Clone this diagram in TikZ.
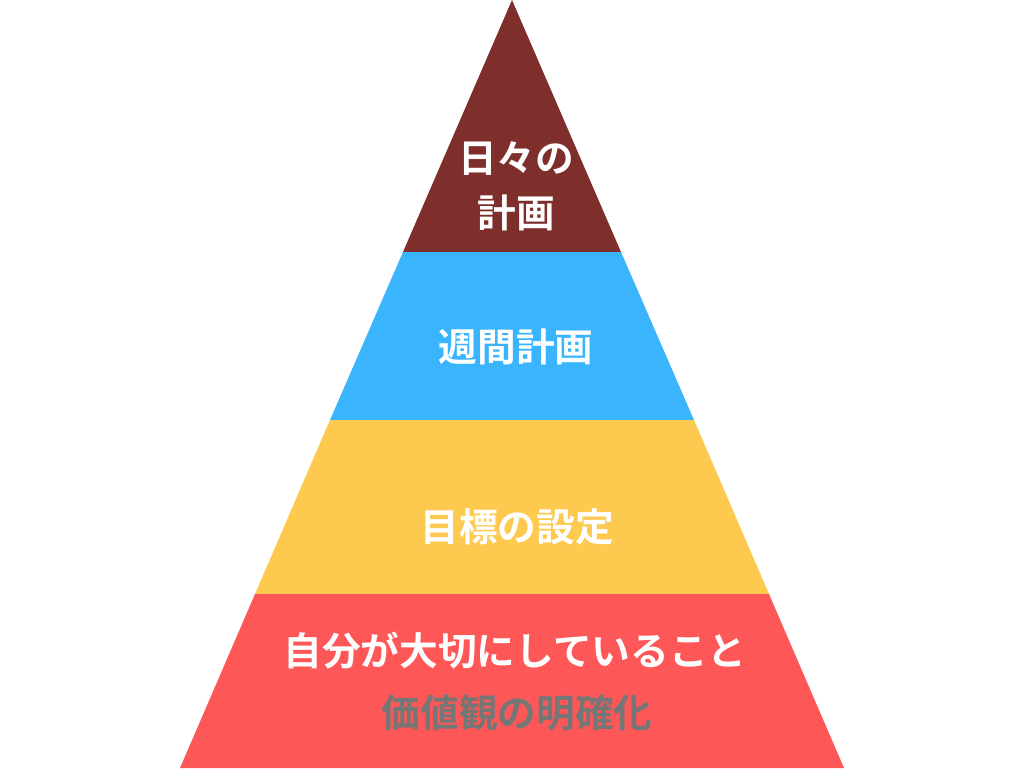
\documentclass[tikz,border=0pt]{standalone}
\usepackage{fontspec}
\newfontfamily\jpfont{Noto Sans CJK JP Bold}
\definecolor{cbrown}{HTML}{7F2F2B}
\definecolor{cblue}{HTML}{3AB4FC}
\definecolor{cyellow}{HTML}{FDC94E}
\definecolor{cred}{HTML}{FE5757}
\definecolor{cgray}{HTML}{767676}
\begin{document}
\begin{tikzpicture}[x=0.75pt,y=-0.75pt,
  label/.style={inner sep=0pt,font=\jpfont\fontsize{29pt}{41pt}\selectfont,text=white,align=center},
  graylabel/.style={label,text=cgray}]
\useasboundingbox (0,0) rectangle (1024,768);
\fill[white] (0,0) rectangle (1024,768);
% bands
\fill[cbrown] (512,0) -- (621,252) -- (403,252) -- cycle;
\fill[cblue] (403,252) -- (621,252) -- (694,420) -- (330,420) -- cycle;
\fill[cyellow] (330,420) -- (694,420) -- (769,594) -- (255,594) -- cycle;
\fill[cred] (255,594) -- (769,594) -- (844,768) -- (180,768) -- cycle;
% labels
\node[label] (t1) at (516,186) {日々の\\計画};
\node[label] (t2) at (516,347) {週間計画};
\node[label] (t3) at (517,527) {目標の設定};
\node[label] (t4) at (515,651) {自分が大切にしていること};
\node[graylabel] (t5) at (517,713) {価値観の明確化};
\end{tikzpicture}
\end{document}
